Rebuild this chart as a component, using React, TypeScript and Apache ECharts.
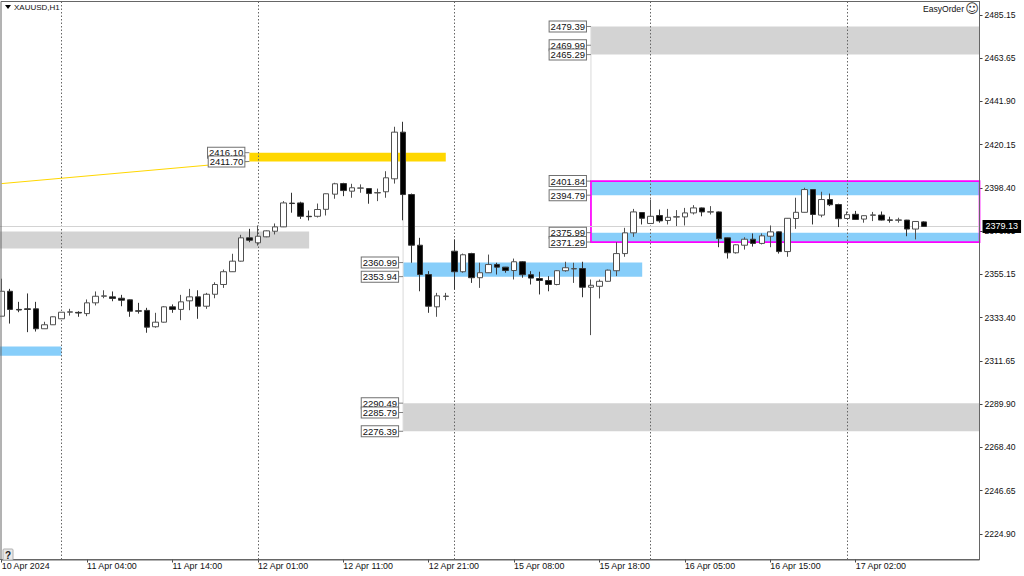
import React, { useEffect, useRef } from "react";
import * as echarts from "echarts";

const tickLabels = ["10 Apr 2024", "11 Apr 04:00", "11 Apr 14:00", "12 Apr 01:00", "12 Apr 11:00", "12 Apr 21:00", "15 Apr 08:00", "15 Apr 18:00", "16 Apr 05:00", "16 Apr 15:00", "17 Apr 02:00"];
const priceTicks = [2485.15, 2463.65, 2441.9, 2420.15, 2398.4, 2376.65, 2355.15, 2333.4, 2311.65, 2289.9, 2268.4, 2246.65, 2224.9];
const daySeparators = [7, 30, 53, 76, 99];
const slotCount = 115;
const lastPrice = 2379.13;

const opens = [2334.1, 2346.6, 2337.5, 2337.8, 2337.8, 2327.8, 2329.8, 2332.8, 2336.1, 2336.0, 2335.4, 2340.8, 2344.1, 2343.8, 2343.1, 2342.3, 2336.8, 2337.0, 2328.8, 2331.1, 2338.8, 2337.5, 2341.8, 2343.8, 2339.1, 2345.1, 2350.0, 2356.4, 2361.7, 2373.4, 2370.9, 2373.9, 2376.7, 2378.9, 2390.8, 2390.9, 2384.2, 2384.2, 2387.7, 2395.3, 2400.6, 2396.8, 2398.3, 2398.1, 2395.9, 2396.5, 2403.0, 2426.4, 2395.1, 2369.7, 2355.0, 2338.8, 2344.0, 2366.7, 2356.4, 2365.5, 2353.4, 2355.9, 2360.0, 2358.7, 2357.0, 2361.4, 2354.9, 2353.0, 2352.0, 2350.0, 2356.9, 2357.8, 2358.0, 2348.6, 2349.1, 2351.6, 2356.9, 2365.5, 2375.9, 2386.1, 2380.6, 2384.6, 2382.1, 2383.8, 2383.9, 2385.9, 2388.4, 2386.3, 2386.4, 2373.4, 2365.9, 2369.7, 2372.7, 2370.6, 2374.2, 2376.4, 2366.5, 2383.1, 2386.2, 2397.6, 2384.8, 2392.6, 2390.1, 2383.1, 2385.2, 2382.8, 2384.7, 2384.8, 2382.4, 2382.2, 2382.3, 2377.8, 2381.4];
const closes = [2346.6, 2337.5, 2337.2, 2337.5, 2327.8, 2329.8, 2333.8, 2336.1, 2336.3, 2335.7, 2340.8, 2344.1, 2344.3, 2343.0, 2342.1, 2336.6, 2336.6, 2328.6, 2331.1, 2338.8, 2337.5, 2341.3, 2343.8, 2339.1, 2345.1, 2350.0, 2356.4, 2361.7, 2373.4, 2372.2, 2374.2, 2376.9, 2378.9, 2390.9, 2390.6, 2384.2, 2384.0, 2387.6, 2395.5, 2400.5, 2397.1, 2398.5, 2398.4, 2395.6, 2396.1, 2403.5, 2426.4, 2395.1, 2369.7, 2355.0, 2339.1, 2344.3, 2344.2, 2356.4, 2364.9, 2353.4, 2355.9, 2360.0, 2358.7, 2357.0, 2361.4, 2354.9, 2353.2, 2352.0, 2350.0, 2356.9, 2358.4, 2358.0, 2348.6, 2349.6, 2351.6, 2357.2, 2365.5, 2375.9, 2386.4, 2383.2, 2384.2, 2381.9, 2383.7, 2384.0, 2385.9, 2388.4, 2386.4, 2386.5, 2373.0, 2365.9, 2369.9, 2372.7, 2370.6, 2374.4, 2376.4, 2366.5, 2383.2, 2386.2, 2397.6, 2385.1, 2392.6, 2390.0, 2383.0, 2385.0, 2382.6, 2384.5, 2384.9, 2382.3, 2382.2, 2382.4, 2377.8, 2381.6, 2379.13];
const lows = [2334.1, 2330.4, 2336.1, 2326.1, 2326.4, 2327.8, 2329.7, 2332.7, 2334.4, 2333.8, 2334.1, 2339.5, 2343.1, 2341.6, 2339.1, 2333.8, 2335.4, 2325.8, 2328.3, 2330.9, 2335.8, 2332.1, 2337.1, 2332.8, 2337.8, 2343.1, 2348.3, 2356.3, 2361.5, 2371.2, 2369.5, 2373.7, 2375.1, 2378.8, 2386.0, 2382.9, 2382.1, 2383.6, 2384.6, 2393.0, 2394.3, 2393.5, 2396.0, 2390.5, 2391.8, 2393.5, 2400.6, 2382.2, 2360.9, 2346.6, 2335.8, 2333.8, 2342.1, 2347.5, 2355.9, 2350.8, 2348.3, 2355.8, 2355.0, 2355.9, 2352.5, 2353.4, 2350.0, 2345.0, 2346.6, 2349.6, 2356.4, 2350.8, 2343.6, 2324.6, 2343.0, 2351.5, 2354.2, 2363.9, 2373.9, 2380.1, 2380.5, 2381.0, 2380.1, 2379.3, 2379.6, 2385.1, 2384.2, 2385.1, 2368.7, 2363.0, 2365.5, 2367.5, 2369.0, 2370.1, 2368.7, 2365.5, 2363.9, 2377.9, 2386.1, 2380.1, 2383.7, 2389.3, 2378.8, 2383.0, 2382.5, 2381.0, 2381.8, 2382.1, 2381.0, 2381.0, 2374.2, 2372.6, 2379.2];
const highs = [2352.9, 2347.8, 2341.3, 2345.5, 2341.3, 2331.3, 2334.0, 2336.2, 2337.8, 2336.6, 2342.5, 2346.5, 2347.1, 2346.5, 2344.8, 2342.5, 2340.8, 2338.3, 2335.8, 2339.1, 2340.0, 2344.8, 2347.8, 2347.1, 2345.8, 2351.1, 2357.5, 2365.4, 2374.9, 2377.9, 2379.6, 2377.1, 2380.6, 2391.8, 2396.0, 2391.5, 2387.1, 2390.6, 2395.6, 2401.0, 2401.0, 2400.5, 2400.2, 2398.2, 2398.1, 2406.8, 2429.1, 2431.6, 2395.6, 2373.4, 2356.7, 2345.8, 2345.8, 2372.6, 2365.5, 2365.9, 2360.9, 2365.0, 2360.9, 2358.8, 2363.0, 2361.7, 2356.7, 2356.4, 2354.2, 2357.2, 2361.4, 2360.9, 2361.4, 2352.5, 2352.5, 2357.5, 2371.2, 2378.4, 2387.9, 2386.2, 2392.6, 2387.6, 2387.9, 2387.3, 2388.4, 2389.8, 2388.6, 2389.3, 2386.6, 2373.5, 2370.1, 2373.7, 2375.6, 2375.6, 2379.6, 2376.6, 2383.3, 2393.5, 2398.5, 2397.7, 2396.5, 2395.6, 2390.5, 2386.6, 2386.9, 2384.6, 2386.4, 2386.6, 2384.0, 2383.5, 2382.4, 2381.7, 2381.7];

const greyZones = [
  [69, 114, 2479.39, 2465.29],
  [47, 114, 2290.49, 2276.39],
  [0, 36, 2376.6, 2368.0],
];
const blueZones = [
  [69, 114, 2401.84, 2394.79],
  [69, 114, 2375.99, 2371.29],
  [47, 75, 2360.99, 2353.94],
  [0, 7, 2318.9, 2314.2],
];
const goldZones = [[29, 52, 2416.1, 2411.7]];
const magentaBoxes = [[69, 114, 2401.84, 2371.29]];
const goldTrend = [[0, 2400.6], [29, 2411.7]];
const anchorLines = [
  [69, 2479.39, 2371.29],
  [47, 2395.0, 2276.39],
];
const levelTags = [
  [69, 2479.39], [69, 2469.99], [69, 2465.29],
  [69, 2401.84], [69, 2394.79], [69, 2375.99], [69, 2371.29],
  [47, 2360.99], [47, 2353.94], [47, 2290.49], [47, 2285.79], [47, 2276.39],
  [29, 2416.1], [29, 2411.7],
];

const FONT = "'Liberation Sans', Arial, sans-serif";
const SHIFT = 3; // the canvas starts 3px left of the page so the first candle's slot can overflow the frame
const categories = Array.from({ length: slotCount }, (_, i) => (i % 10 === 0 && tickLabels[i / 10]) || "bar " + i);
const showTick = (i: number) => i % 10 === 0 && i / 10 < tickLabels.length;

function zoneSeries(data: number[][], fill: string) {
  return {
    type: "custom",
    z: 1,
    silent: true,
    clip: true,
    data,
    renderItem: (params: any, api: any) => {
      const a = api.coord([api.value(0), api.value(2)]);
      const b = api.coord([api.value(1), api.value(3)]);
      const left = api.value(0) === 0 ? params.coordSys.x : a[0];
      const right = api.value(1) === slotCount - 1 ? params.coordSys.x + params.coordSys.width : b[0];
      return {
        type: "rect",
        shape: { x: left, y: a[1], width: right - left, height: b[1] - a[1] },
        style: { fill },
      };
    },
  };
}

export default function App() {
  const ref = useRef<HTMLDivElement>(null);
  useEffect(() => {
    document.body.style.margin = "0";
    const chart = echarts.init(ref.current!, null, { renderer: "svg" });
    chart.setOption({
      animation: false,
      backgroundColor: "#ffffff",
      grid: { left: 0.43, top: 1.5, width: 982.1, height: 558 },
      xAxis: {
        type: "category",
        data: categories,
        boundaryGap: true,
        axisLine: { show: true, onZero: false, lineStyle: { color: "#666666", width: 1 } },
        axisTick: { show: true, alignWithLabel: true, interval: (i: number) => showTick(i), length: 3, lineStyle: { color: "#444444" } },
        axisLabel: {
          show: true,
          interval: (i: number) => showTick(i),
          align: "left",
          margin: 2,
          fontFamily: FONT,
          fontSize: 8.9,
          color: "#111111",
          formatter: (v: string) => v,
        },
        splitLine: { show: false },
      },
      yAxis: {
        type: "value",
        position: "right",
        min: 2212.08,
        max: 2491.92,
        scale: true,
        axisLine: { show: true, lineStyle: { color: "#666666", width: 1 } },
        axisTick: { show: true, length: 3, customValues: priceTicks, lineStyle: { color: "#444444" } },
        axisLabel: {
          show: true,
          customValues: priceTicks,
          margin: 5,
          fontFamily: FONT,
          fontSize: 8.6,
          color: "#111111",
          formatter: (v: number) => v.toFixed(2),
        },
        splitLine: { show: false },
      },
      series: [
        zoneSeries(greyZones, "#d3d3d3"),
        zoneSeries(blueZones, "#87cefa"),
        zoneSeries(goldZones, "#ffd700"),
        {
          type: "custom",
          z: 1,
          silent: true,
          clip: true,
          data: magentaBoxes,
          renderItem: (params: any, api: any) => {
            const a = api.coord([api.value(0), api.value(2)]);
            const b = api.coord([api.value(1), api.value(3)]);
            const right = params.coordSys.x + params.coordSys.width;
            return {
              type: "rect",
              z2: 5,
              shape: { x: a[0], y: a[1], width: right - a[0], height: b[1] - a[1] },
              style: { fill: "none", stroke: "#ff00ff", lineWidth: 1.7 },
            };
          },
        },
        {
          type: "custom",
          z: 1,
          silent: true,
          data: anchorLines,
          renderItem: (_p: any, api: any) => {
            const a = api.coord([api.value(0), api.value(1)]);
            const b = api.coord([api.value(0), api.value(2)]);
            return {
              type: "line",
              shape: { x1: a[0], y1: a[1], x2: b[0], y2: b[1] },
              style: { stroke: "#d9d9d9", lineWidth: 1 },
            };
          },
        },
        {
          type: "line",
          z: 1,
          silent: true,
          data: goldTrend,
          symbol: "none",
          lineStyle: { color: "#ffd700", width: 1 },
        },
        {
          type: "candlestick",
          z: 3,
          silent: true,
          barWidth: 6,
          data: opens.map((o, i) => [o, closes[i], lows[i], highs[i]]),
          itemStyle: {
            color: "#ffffff",
            color0: "#000000",
            borderColor: "#505050",
            borderColor0: "#333333",
            borderWidth: 1,
          },
          markLine: {
            silent: true,
            symbol: "none",
            animation: false,
            precision: 2,
            z: 2,
            data: [
              ...daySeparators.map((d) => ({
                xAxis: d,
                lineStyle: { color: "#666666", type: [1.5, 2], width: 1 },
                label: { show: false },
              })),
              {
                yAxis: lastPrice,
                lineStyle: { color: "#d3d3d3", type: "solid", width: 1 },
                label: {
                  show: true,
                  position: "end",
                  distance: 3,
                  formatter: lastPrice.toFixed(2),
                  fontFamily: FONT,
                  fontSize: 9,
                  color: "#ffffff",
                  backgroundColor: "#000000",
                  padding: [2, 3, 2, 3],
                },
              },
            ],
          },
        },
        {
          type: "custom",
          z: 5,
          silent: true,
          data: levelTags,
          renderItem: (_p: any, api: any) => {
            const p = api.coord([api.value(0), api.value(1)]);
            return {
              type: "group",
              children: [
                {
                  type: "line",
                  shape: { x1: p[0] - 5, y1: p[1], x2: p[0], y2: p[1] },
                  style: { stroke: "#808080", lineWidth: 1 },
                },
                {
                  type: "text",
                  x: p[0] - 5,
                  y: p[1],
                  style: {
                    text: api.value(1).toFixed(2),
                    align: "right",
                    verticalAlign: "middle",
                    fontFamily: FONT,
                    fontSize: 9.5,
                    lineHeight: 10,
                    fill: "#111111",
                    backgroundColor: "#ffffff",
                    borderColor: "#707070",
                    borderWidth: 1,
                    padding: [0, 1, 0, 1],
                  },
                },
              ],
            };
          },
        },
      ],
      graphic: [
        {
          type: "group",
          x: SHIFT,
          y: 0,
          z: 20,
          silent: true,
          children: [
            {
              type: "rect",
              silent: true,
              z: 20,
              shape: { x: 1, y: 1.5, width: 978.5, height: 558.5 },
              style: { fill: "none", stroke: "#666666", lineWidth: 1 },
            },
            {
              type: "polygon",
              silent: true,
              z: 21,
              shape: { points: [[5, 5], [11, 5], [8, 9]] },
              style: { fill: "#000000" },
            },
            {
              type: "text",
              z: 21,
              x: 14,
              y: 7.5,
              style: { text: "XAUUSD,H1", fontFamily: FONT, fontSize: 8, fill: "#111111", verticalAlign: "middle" },
            },
            {
              type: "text",
              z: 21,
              x: 964,
              y: 8.5,
              style: { text: "EasyOrder", fontFamily: FONT, fontSize: 8.6, fill: "#111111", align: "right", verticalAlign: "middle" },
            },
            {
              type: "text",
              z: 21,
              x: 972,
              y: 8.5,
              style: { text: "☺", fontFamily: "'DejaVu Sans'", fontSize: 13, fill: "#333333", align: "center", verticalAlign: "middle" },
            },
            {
              type: "rect",
              z: 21,
              silent: true,
              shape: { x: 3, y: 549, width: 10, height: 11, r: 1 },
              style: { fill: "#e8e8e8", stroke: "#b0b0b0", lineWidth: 1 },
            },
            {
              type: "text",
              z: 22,
              x: 8,
              y: 555,
              style: { text: "?", fontFamily: FONT, fontSize: 10, fontWeight: "bold", fill: "#222222", align: "center", verticalAlign: "middle" },
            },
          ],
        },
      ],
    });
    return () => chart.dispose();
  }, []);
  return <div ref={ref} style={{ position: "absolute", left: -SHIFT, top: 0, width: 1024 + SHIFT, height: 576 }} />;
}
